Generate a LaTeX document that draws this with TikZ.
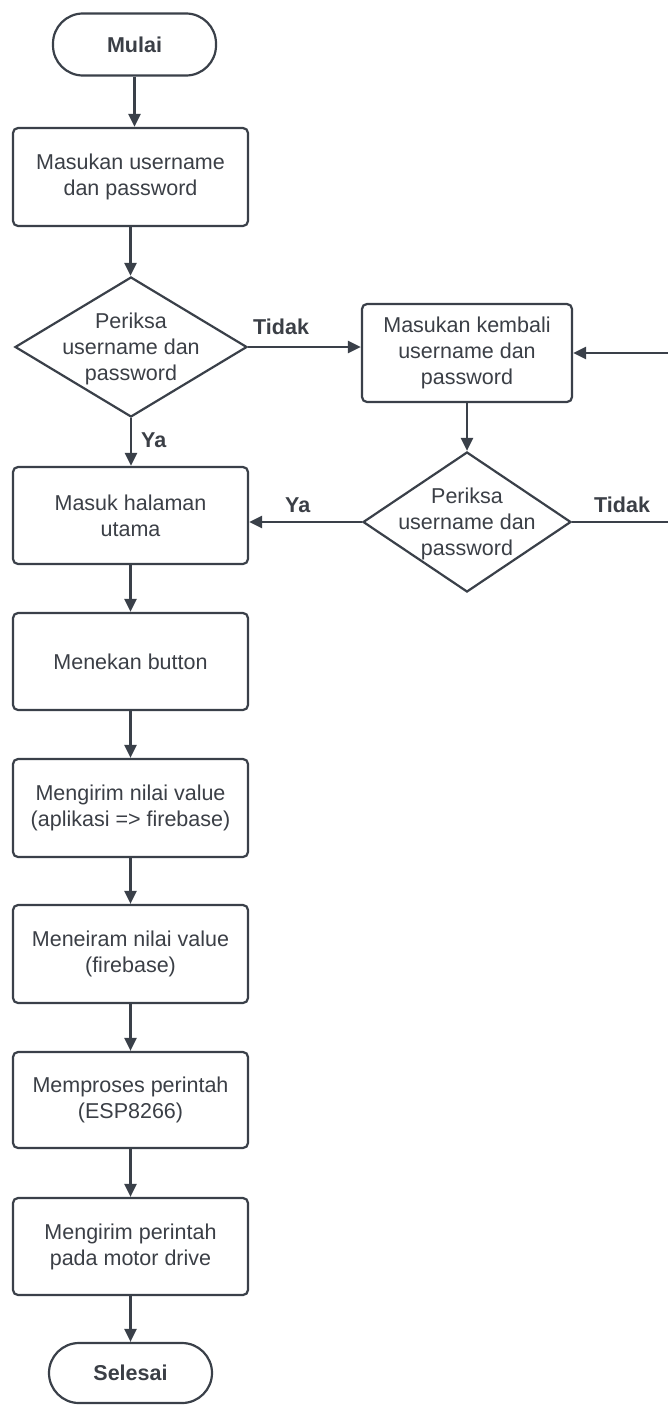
\documentclass[tikz,border=0pt]{standalone}
\usepackage{fontspec}
\setmainfont{Liberation Sans}
\usetikzlibrary{arrows.meta,shapes.geometric}
\definecolor{lncol}{HTML}{3A4049}
\definecolor{txcol}{HTML}{3B3F46}
\newcommand{\dtext}[1]{\makebox[0pt]{\smash{\raisebox{-7pt}{\begin{tabular}{@{}c@{}}#1\end{tabular}}}}}
\tikzset{
  base/.style={draw=lncol, line width=2.2pt, text=txcol, inner sep=0pt,
    font=\fontsize{21.5}{26}\selectfont, align=center},
  procbox/.style={base, rectangle, rounded corners=5pt, minimum width=235pt},
  termbox/.style={base, rectangle, rounded corners=30pt, minimum width=163pt, minimum height=62pt, font=\fontsize{21.5}{26}\selectfont\bfseries},
  decision/.style={base, diamond, minimum width=232pt, minimum height=140pt},
  flow/.style={draw=lncol, line width=2.4pt, -{Triangle[length=13pt,width=12pt]}},
  plain/.style={draw=lncol, line width=2.4pt},
  lbl/.style={text=txcol, inner sep=0pt, font=\fontsize{21.5}{26}\selectfont\bfseries}
}
\begin{document}
\begin{tikzpicture}[x=1pt,y=-1pt]
\useasboundingbox[fill=white] (0,0) rectangle (668,1405);
\node[termbox] (mulai) at (134.5,44.5) {Mulai};
\node[procbox, minimum height=98pt] (b1) at (130.5,177) {Masukan username\\dan password};
\node[decision] (d1) at (131,347) {\dtext{Periksa\\username dan\\password}};
\node[procbox, minimum width=210pt, minimum height=98pt] (kembali) at (467,353) {Masukan kembali\\username dan\\password};
\node[decision, minimum width=208pt] (d2) at (467,522) {\dtext{Periksa\\username dan\\password}};
\node[procbox, minimum height=97pt] (masuk) at (130.5,515.5) {Masuk halaman\\utama};
\node[procbox, minimum height=97pt] (tekan) at (130.5,661.5) {Menekan button};
\node[procbox, minimum height=98pt] (kirim) at (130.5,808) {Mengirim nilai value\\(aplikasi => firebase)};
\node[procbox, minimum height=98pt] (terima) at (130.5,954) {Meneiram nilai value\\(firebase)};
\node[procbox, minimum height=96pt] (proses) at (130.5,1100) {Memproses perintah\\(ESP8266)};
\node[procbox, minimum height=97pt] (motor) at (130.5,1246.5) {Mengirim perintah\\pada motor drive};
\node[termbox, minimum height=60pt] (selesai) at (130.5,1373) {Selesai};

\coordinate (rin) at (668,353);
\coordinate (rout) at (668,522);

\draw[flow] (mulai.south) -- (mulai.south |- b1.north);
\draw[flow] (b1.south) -- (b1.south |- d1.north);
\draw[flow] (d1.east) -- (d1.east -| kembali.west);
\draw[flow] (rin) -- (kembali.east);
\draw[flow] (kembali.south) -- (d2.north);
\draw[flow] (d1.south) -- (d1.south |- masuk.north);
\draw[flow] (d2.west) -- (d2.west -| masuk.east);
\draw[plain] (d2.east) -- (rout);
\draw[flow] (masuk.south) -- (tekan.north);
\draw[flow] (tekan.south) -- (kirim.north);
\draw[flow] (kirim.south) -- (terima.north);
\draw[flow] (terima.south) -- (proses.north);
\draw[flow] (proses.south) -- (motor.north);
\draw[flow] (motor.south) -- (selesai.north);

\node[lbl, anchor=west] (t1) at (253,327) {Tidak};
\node[lbl, anchor=west] (y1) at (141,440) {Ya};
\node[lbl, anchor=west] (y2) at (285,505) {Ya};
\node[lbl, anchor=west] (t2) at (594,505) {Tidak};
\end{tikzpicture}
\end{document}
